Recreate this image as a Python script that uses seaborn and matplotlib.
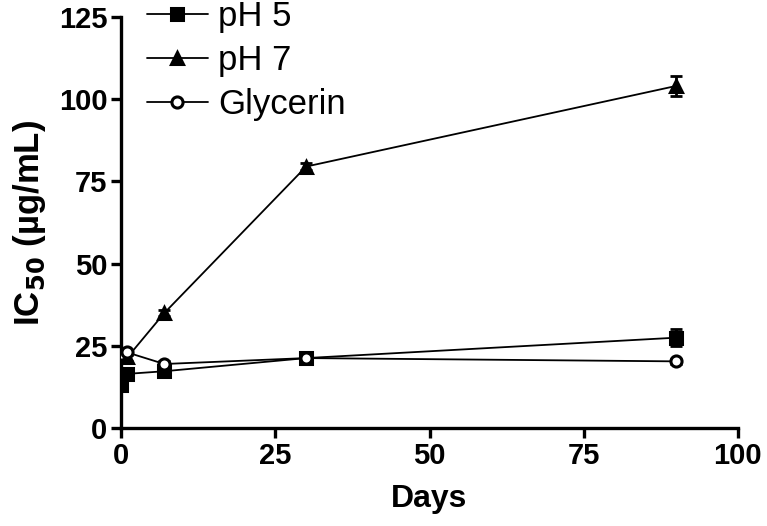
import numpy as np
import pandas as pd
import matplotlib
matplotlib.use("Agg")
import matplotlib.pyplot as plt
import seaborn as sns

# data
days = [0, 1, 7, 30, 90]
ph5 = [13.0, 16.5, 17.3, 21.3, 27.5]
ph5_err = [1.0, 1.0, 1.0, 1.0, 2.5]
ph7 = [22.0, 21.5, 35.0, 79.5, 104.0]
ph7_err = [1.0, 1.0, 1.0, 1.0, 3.0]
glycerin = [22.5, 23.0, 19.5, 21.3, 20.3]
glycerin_err = [0.8, 0.8, 0.8, 0.8, 0.8]

sns.set_style("ticks", {"axes.edgecolor": "black", "text.color": "black",
                        "xtick.color": "black", "ytick.color": "black",
                        "axes.labelcolor": "black"})
plt.rcParams['font.family'] = ['Liberation Sans', 'DejaVu Sans']

fig = plt.figure(figsize=(7.67, 5.26), dpi=100)
ax = fig.add_axes([0.158, 0.186, 0.804, 0.782])

series = [("pH 5", ph5, ph5_err, "s", "black"),
          ("pH 7", ph7, ph7_err, "^", "black"),
          ("Glycerin", glycerin, glycerin_err, "o", "white")]

for name, vals, err, mk, fc in series:
    df = pd.DataFrame({"Days": days, "IC50": vals})
    ax.errorbar(days, vals, yerr=err, fmt="none", ecolor="black",
                elinewidth=2, capsize=4, capthick=2, zorder=2)
    sns.lineplot(data=df, x="Days", y="IC50", ax=ax, color="black",
                 linewidth=1.3, marker=mk, markersize=9 if mk != "o" else 8,
                 markerfacecolor=fc, markeredgecolor="black",
                 markeredgewidth=2.2, label=name, zorder=3)

ax.set_xlim(0, 100)
ax.set_ylim(0, 125)
ax.set_xticks([0, 25, 50, 75, 100])
ax.set_yticks([0, 25, 50, 75, 100, 125])
sns.despine(ax=ax)
for sp in ["left", "bottom"]:
    ax.spines[sp].set_linewidth(2.4)
ax.tick_params(width=2.4, length=7, labelsize=21, pad=3)
for lbl in ax.get_xticklabels() + ax.get_yticklabels():
    lbl.set_fontweight("bold")

ax.set_xlabel("Days", fontsize=23, fontweight="bold", labelpad=10)
ax.set_ylabel("IC$_{\\mathbf{50}}$ (µg/mL)", fontsize=25, fontweight="bold", labelpad=8)

leg = ax.legend(loc="upper left", bbox_to_anchor=(147 / 767, 1.0),
                bbox_transform=fig.transFigure, frameon=False,
                fontsize=25, handlelength=1.75, handletextpad=0.3,
                labelspacing=0.32, borderpad=0, borderaxespad=0)

fig.savefig("out.png", dpi=100)
